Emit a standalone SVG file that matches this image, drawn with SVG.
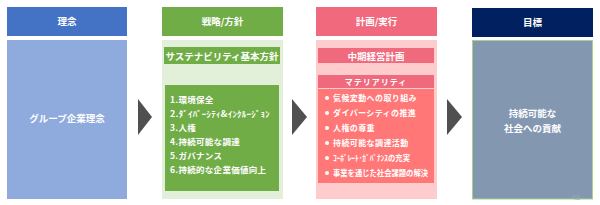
<svg xmlns="http://www.w3.org/2000/svg" width="600" height="205" viewBox="0 0 600 205">
<style>
text{font-family:"Noto Sans CJK JP","Noto Sans",sans-serif;fill:#fff;font-weight:bold}
.c{text-anchor:middle}
.h{font-size:9.5px}
.li{font-size:8.5px;letter-spacing:0.3px}
.lr{font-size:8px}
.arrow{fill:#505050}
</style>
<rect width="600" height="205" fill="#fff"/>
<g id="col1">
<rect x="7" y="7" width="120" height="29" fill="#4472C4"/>
<text class="c h" x="67" y="25">理念</text>
<rect x="7" y="40" width="120" height="159" fill="#8FAADC"/>
<text class="c h" x="67" y="122">グループ企業理念</text>
</g>
<g id="col2">
<rect x="162" y="7" width="121" height="29" fill="#70AD47"/>
<text class="c h" x="222.5" y="25">戦略/方針</text>
<rect x="162" y="40" width="121" height="159" fill="#E2F0D9"/>
<rect x="164" y="47" width="116" height="17" fill="#70AD47"/>
<text class="c h" x="222" y="59.5">サステナビリティ基本方針</text>
<rect x="165" y="85" width="114" height="106" fill="#70AD47"/>
<text class="li" x="170" y="103">1.環境保全</text>
<text class="li" x="170" y="117" textLength="100" lengthAdjust="spacingAndGlyphs">2.ﾀﾞｲﾊﾞｰｼﾃｨ&amp;ｲﾝｸﾙｰｼﾞｮﾝ</text>
<text class="li" x="170" y="131">3.人権</text>
<text class="li" x="170" y="145">4.持続可能な調達</text>
<text class="li" x="170" y="159">5.ガバナンス</text>
<text class="li" x="170" y="173">6.持続的な企業価値向上</text>
</g>
<g id="col3">
<rect x="316" y="7" width="121" height="29" fill="#F0697C"/>
<text class="c h" x="376.5" y="25">計画/実行</text>
<rect x="316" y="40" width="121" height="159" fill="#FFCCCE"/>
<rect x="318" y="48" width="116" height="15" fill="#EE6A7C"/>
<text class="c" x="376" y="59.5" font-size="9.5">中期経営計画</text>
<rect x="318" y="75" width="116" height="13" fill="#EE6A7C"/>
<text class="c" x="376" y="85" font-size="8" letter-spacing="1">マテリアリティ</text>
<rect x="318" y="89" width="116" height="94" fill="#FF7777"/>
<g fill="#fff">
<circle cx="327" cy="98" r="2"/>
<circle cx="327" cy="113" r="2"/>
<circle cx="327" cy="128" r="2"/>
<circle cx="327" cy="143" r="2"/>
<circle cx="327" cy="158" r="2"/>
<circle cx="327" cy="173" r="2"/>
</g>
<text class="lr" x="333" y="101" letter-spacing="0.4">気候変動への取り組み</text>
<text class="lr" x="333" y="116" letter-spacing="0.4">ダイバーシティの推進</text>
<text class="lr" x="333" y="131" letter-spacing="0.4">人権の尊重</text>
<text class="lr" x="333" y="146" letter-spacing="0.4">持続可能な調達活動</text>
<text class="lr" x="333" y="161" textLength="77" lengthAdjust="spacingAndGlyphs">ｺｰﾎﾟﾚｰﾄ･ｶﾞﾊﾞﾅﾝｽの充実</text>
<text class="lr" x="333" y="176" textLength="95" lengthAdjust="spacingAndGlyphs">事業を通じた社会課題の解決</text>
</g>
<g id="col4">
<rect x="472" y="8" width="121" height="29" fill="#002060"/>
<text class="c h" x="532.5" y="26">目標</text>
<rect x="472.5" y="40.5" width="120" height="158.5" fill="#8497B0" stroke="#A9D18E" stroke-width="1"/>
<text class="c h" x="532.5" y="117">持続可能な</text>
<text class="c h" x="532.5" y="132">社会への貢献</text>
<text x="572" y="200" font-size="7" style="fill:#9AA6B8;font-weight:normal">48</text>
</g>
<g id="connectors">
<polygon class="arrow" points="138,99 152,117 138,135"/>
<polygon class="arrow" points="292,99 307,117 292,135"/>
<polygon class="arrow" points="447,99 462,117 447,135"/>
</g>
</svg>
